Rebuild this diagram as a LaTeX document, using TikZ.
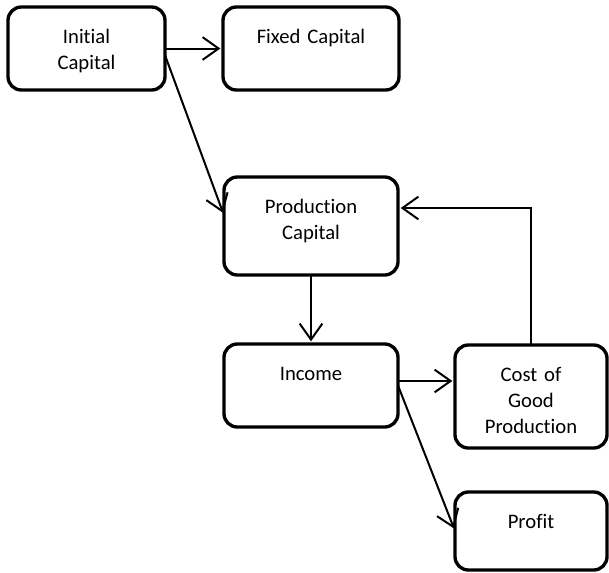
\documentclass[tikz,border=0pt]{standalone}
\usepackage{fontspec}
\setmainfont{Carlito}[Ligatures=NoCommon,WordSpace=0.85]
\usetikzlibrary{arrows.meta}

\begin{document}
\begin{tikzpicture}[x=0.75pt,y=-0.75pt]
  \tikzset{BoxStyle/.style = {
    shape           = rectangle,
    draw            = black,
    fill            = white,
    rounded corners = 10pt,
    line width      = 2.5pt,
    text            = black,
    align           = center,
    inner sep       = 0pt,
    outer sep       = 0pt,
    text height     = 27pt,
    anchor          = north west,
    font            = \fontsize{15.5}{19.5}\selectfont
    }
  }
  \tikzset{ArrowStyle/.style = {
    draw            = black,
    line width      = 1.5pt,
    -{Straight Barb[length=12pt,width=17pt]},
    shorten >       = 2pt
    }
  }
  \useasboundingbox (0,0) rectangle (609,572);

  \node[BoxStyle, text width=117.75pt, text depth=35.25pt](init) at (8,7) {Initial\\Capital};
  \node[BoxStyle, text width=132pt, text depth=35.25pt](fixed) at (223,7) {Fixed Capital};
  \node[BoxStyle, text width=130.5pt, text depth=46.5pt](prod) at (224,177) {Production\\Capital};
  \node[BoxStyle, text width=130.5pt, text depth=35.25pt](inc) at (224,344) {Income};
  \node[BoxStyle, text width=114pt, text depth=50.25pt](cost) at (455,345) {Cost of\\Good\\Production};
  \node[BoxStyle, text width=114pt, text depth=31.5pt](profit) at (455,492) {Profit};

  \draw[ArrowStyle](init.east) -- (fixed.west);
  \draw[ArrowStyle]([yshift=-5pt]init.east) -- ([yshift=8pt]prod.west);
  \draw[ArrowStyle](prod.south) -- (inc.north);
  \draw[ArrowStyle](cost.north) |- ([yshift=13.5pt]prod.east);
  \draw[ArrowStyle]([yshift=3.4pt]inc.east) -- ([yshift=3.4pt]inc.east -| cost.west);
  \draw[ArrowStyle](inc.east) -- (profit.west);
\end{tikzpicture}
\end{document}
